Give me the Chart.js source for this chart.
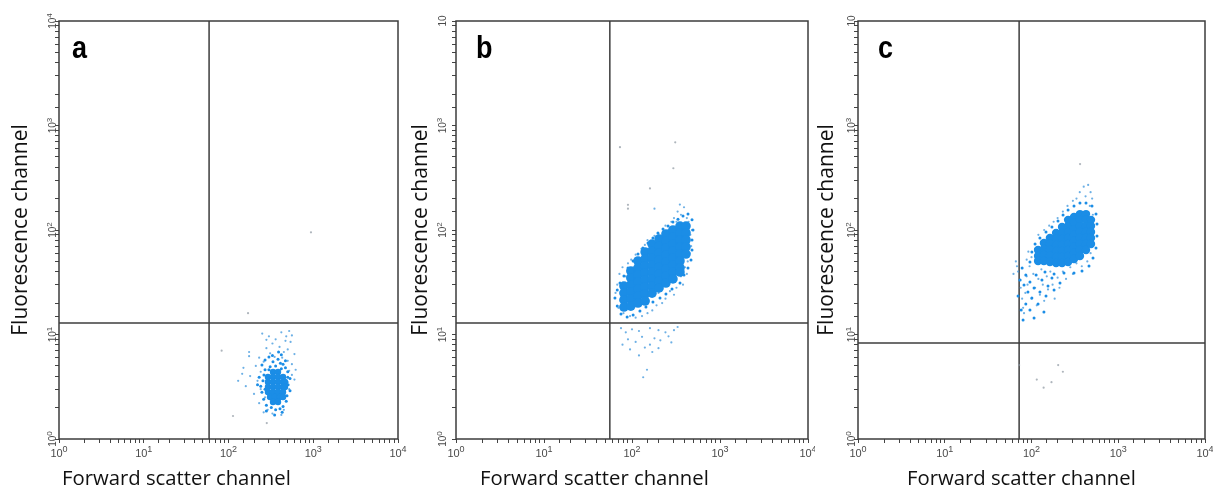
<!DOCTYPE html>
<html>
<head>
<meta charset="UTF-8">
<title>Flow cytometry dot plots</title>
<script src="https://cdn.jsdelivr.net/npm/chart.js@4.4.1/dist/chart.umd.min.js"></script>
<style>
    body { margin: 0; background: #fff; }
    #wrap { position: relative; width: 1213px; height: 491px; overflow: hidden; }
    #wrap canvas { position: absolute; top: 0; }
</style>
</head>
<body>
<div id="wrap">
    <canvas id="chartA" width="412" height="491" style="left:0px"></canvas>
    <canvas id="chartB" width="412" height="491" style="left:403px"></canvas>
    <canvas id="chartC" width="403" height="491" style="left:810px"></canvas>
</div>
<script>
// ---- data (forward scatter, fluorescence) ----
// tick labels as [base, exponent]
var xTickLabels = [['10', '0'], ['10', '1'], ['10', '2'], ['10', '3'], ['10', '4']];
var yLabelsA = [['10', '0'], ['10', '1'], ['10', '2'], ['10', '3'], ['10', '4']];
var yLabelsB = [['10', '0'], ['10', '1'], ['10', '2'], ['10', '3'], ['10', '']];
var yLabelsC = [['10', '0'], ['10', '1'], ['10', '2'], ['10', '3'], ['10', '']];

// quadrant gates [forward scatter, fluorescence]
var gateA = [59, 12.9];
var gateB = [56, 12.9];
var gateC = [72, 8.3];

// panel a - dense centre, fringe, scattered events, faint outliers
var aCore = [[335,4.38],[384,4.38],
    [292,3.92],[335,3.92],[384,3.92],[440,3.92],
    [292,3.51],[335,3.51],[384,3.51],[440,3.51],[464,3.51],
    [292,3.15],[335,3.15],[384,3.15],[440,3.15],[464,3.15],
    [292,2.82],[335,2.82],[384,2.82],[440,2.82],
    [309,2.52],[354,2.52],[405,2.52],[440,2.52],
    [335,2.26],[384,2.26]];
var aMid = [[248,5.1],[270,5.7],[300,6.1],[335,5.5],[384,5.8],[420,6.4],[440,5.2],[470,4.8],[500,4.4],
    [532,3.8],[505,3.3],[532,2.9],[490,2.6],[480,2.3],[440,2.05],[405,1.95],[360,1.9],[320,2.0],[280,2.1],
    [260,2.4],[248,2.8],[240,3.2],[255,3.6],[262,4.1],[270,4.6],[310,4.9],[360,5.0],[410,5.3],[420,4.7],
    [300,4.6],[230,3.9],[220,3.3],[270,3.0],[500,3.9],[470,5.6],[280,1.85],[350,1.7],[430,1.8],[390,6.8],[330,6.3]];
var aSpread = [[250,10.2],[300,9.6],[420,10.5],[520,10.8],[560,9.8],[360,9.0],[470,8.7],[330,8.2],[540,8.5],
    [400,7.6],[280,7.4],[500,7.2],[175,6.8],[175,6.2],[230,6.0],[600,6.5],[450,6.8],[260,5.5],[500,5.6],
    [560,5.2],[210,5.0],[150,4.8],[620,4.6],[240,4.4],[520,4.5],[180,4.0],[560,4.1],[130,3.6],[220,3.6],
    [500,3.5],[160,3.2],[240,3.0],[520,3.0],[200,2.7],[270,2.5],[470,2.6],[230,2.2],[290,1.9],[450,1.9],
    [260,1.8],[330,1.75],[420,1.7],[145,4.2],[600,3.7],[350,6.1],[430,6.0],[310,6.6],[280,8.9],[480,9.6]];
var aFaint = [[113,1.66],[283,1.42],[83,7.0],[170,16],[940,95]];

// panel b
var bCore = [[81,29.1],[81,24.9],[81,21.4],[81,18.3],
    [97,40.5],[97,34.8],[97,29.8],[97,25.5],[97,21.9],[97,18.7],
    [117,50.5],[117,43.3],[117,37.1],[117,31.8],[117,27.2],[117,23.4],[117,20.0],
    [141,61.6],[141,52.8],[141,45.2],[141,38.8],[141,33.2],[141,28.5],[141,24.4],[141,20.9],
    [169,73.4],[169,63.0],[169,54.0],[169,46.2],[169,39.6],[169,34.0],[169,29.1],[169,24.9],
    [203,82.0],[203,70.3],[203,60.2],[203,51.6],[203,44.3],[203,37.9],[203,32.5],[203,27.9],
    [243,91.6],[243,78.5],[243,67.3],[243,57.6],[243,49.4],[243,42.3],[243,36.3],[243,31.1],
    [292,100],[292,85.7],[292,73.4],[292,63.0],[292,54.0],[292,46.2],[292,39.6],[292,34.0],
    [351,109],[351,93.6],[351,80.2],[351,68.8],[351,58.9],[351,50.5],[351,43.3],[351,39.6],
    [411,109],[411,93.6],[411,80.2],[411,68.8],[411,58.9]];
var bMid = [[68,26.7],[73,31.1],[81,36.3],[90,43.3],[103,50.5],[117,58.9],[133,67.3],[152,75.1],[173,83.8],
    [197,93.6],[225,102],[257,109],[292,119],[333,127],[380,136],[433,142],[481,125],[493,100],[481,80.2],
    [481,64.4],[468,51.6],[433,43.3],[390,37.1],[351,31.1],[285,27.2],[243,24.4],[208,22.4],[173,20.5],
    [144,18.3],[123,16.8],[103,15.4],[88,14.7],[75,15.7],[68,18.7],[64,22.4]];
var bSpread = [[68,30],[72,38],[78,44],[85,36],[90,48],[98,52],[110,58],[120,50],[128,66],[140,72],
    [150,80],[165,70],[180,88],[200,92],[215,84],[240,110],[260,100],[280,120],[300,130],[330,150],
    [360,140],[390,165],[420,130],[440,120],[180,160],[350,175],[320,120],[230,95],[105,44],[95,40],
    [460,90],[470,70],[450,60],[430,50],[400,44],[420,38],[360,36],[380,30],[320,28],[300,24],
    [270,26],[240,22],[220,20],[190,19],[170,17],[150,16],[130,15],[110,14.5],[95,15],[80,16],
    [70,18],[75,21],[65,25],[480,100],[440,105],[350,95],[250,30],[200,25],
    [75,11.5],[85,10.5],[100,11.2],[120,10.8],[160,11.5],[200,11],[240,10.5],[300,11],[330,11.8],
    [90,9],[110,8.5],[130,9.5],[160,8],[180,9.2],[210,8.8],[260,9.6],[78,8],[95,7.2],[140,7.5],
    [170,6.8],[148,4.6],[134,3.9],[120,6.3],[200,7.4],[280,8.4]];
var bFaint = [[73,620],[310,690],[295,390],[160,250],[90,174],[90,160]];

// panel c
var cCore = [[119,64.4],[119,56.4],[119,50.5],
    [139,75.1],[139,65.8],[139,57.6],[139,50.5],
    [163,83.8],[163,73.4],[163,64.4],[163,56.4],[163,49.4],
    [192,93.6],[192,82.0],[192,71.8],[192,63.0],[192,55.2],[192,48.3],
    [225,107],[225,93.6],[225,82.0],[225,71.8],[225,63.0],[225,55.2],[225,48.3],
    [264,125],[264,109],[264,95.7],[264,83.8],[264,73.4],[264,64.4],[264,56.4],[264,49.4],
    [309,133],[309,117],[309,102],[309,89.6],[309,78.5],[309,68.8],[309,60.2],[309,52.8],
    [362,142],[362,125],[362,109],[362,95.7],[362,83.8],[362,73.4],[362,64.4],[362,56.4],
    [425,142],[425,125],[425,109],[425,95.7],[425,83.8],[425,73.4],[425,64.4],
    [485,125],[485,109],[485,95.7],[485,83.8],[485,73.4]];
var cMid = [[96,49.4],[101,61.6],[110,73.4],[125,83.8],[147,95.7],[172,107],[202,122],[231,139],[264,155],
    [309,170],[362,181],[425,181],[498,170],[554,142],[569,114],[569,87.7],[554,67.3],[512,54],[460,45.2],
    [382,40.5],[309,38.8],[237,38.8],[182,37.9],[143,39.6],
    [78,43.3],[86,37.1],[96,31.8],[107,27.9],[91,25.5],[82,29.8],[74,33.2],[113,37.1],[132,33.2],[155,29.1],
    [125,25.5],[101,22.4],[86,19.6],[76,17.2],[96,17.2],[119,19.6],[147,23.4],[182,26.7],[213,31.1],
    [172,34.8],[70,23.4],[80,13.8],[107,14.4],[139,16.4]];
var cSpread = [[70,40],[72,33],[75,28],[78,22],[80,18],[82,16],[85,25],[88,36],[90,30],[95,45],
    [100,22],[105,38],[110,28],[115,19],[120,34],[125,24],[130,42],[135,30],[140,21],[150,36],
    [155,27],[165,40],[175,30],[185,22],[200,35],[210,28],[230,40],[250,34],[280,44],[300,38],
    [68,45],[62,38],[66,50],[100,55],[92,62],[110,66],[88,52],
    [200,130],[230,150],[260,170],[300,190],[330,200],[360,230],[400,260],[450,270],[480,230],
    [500,200],[420,210],[470,170],[510,140],[520,110],[500,80],[480,60],[440,50],[380,45],[330,48],
    [180,120],[160,110],[140,100],[120,90]];
var cFaint = [[363,427],[203,5.1],[230,4.4],[170,3.5],[138,3.1],[115,3.7],[72,5.1]];

function pts(list) {
    return list.map(function (p) { return {x: p[0], y: p[1]}; });
}

// "10" with a raised exponent, centred on 0,0 of the current transform
function powerLabel(ctx, lbl, size, expSize, rise) {
    ctx.font = size + 'px "Liberation Sans", Arial, sans-serif';
    var wb = ctx.measureText(lbl[0]).width;
    ctx.font = expSize + 'px "Liberation Sans", Arial, sans-serif';
    var we = lbl[1] ? ctx.measureText(lbl[1]).width : 0;
    var x0 = -(wb + we) / 2;
    ctx.textAlign = 'left';
    ctx.font = size + 'px "Liberation Sans", Arial, sans-serif';
    ctx.fillText(lbl[0], x0, 0);
    if (lbl[1]) {
        ctx.font = expSize + 'px "Liberation Sans", Arial, sans-serif';
        ctx.fillText(lbl[1], x0 + wb, -rise);
    }
}

var panelDecor = {
    id: 'panelDecor',
    afterDraw: function (chart, args, opts) {
        var ctx = chart.ctx, ca = chart.chartArea;
        var xs = chart.scales.x, ys = chart.scales.y;
        ctx.save();
        ctx.strokeStyle = '#3c3c3c';
        ctx.lineWidth = 1.5;
        ctx.strokeRect(ca.left, ca.top, ca.right - ca.left, ca.bottom - ca.top);

        ctx.fillStyle = '#4a4a4a';
        ctx.textBaseline = 'alphabetic';
        xTickLabels.forEach(function (lbl, i) {
            ctx.save();
            ctx.translate(xs.getPixelForValue(Math.pow(10, i)), ca.bottom + 18);
            powerLabel(ctx, lbl, 11, 9, 5);
            ctx.restore();
        });

        opts.yLabels.forEach(function (lbl, i) {
            ctx.save();
            ctx.translate(ca.left - opts.yLabelGap, ys.getPixelForValue(Math.pow(10, i)));
            ctx.rotate(-Math.PI / 2);
            powerLabel(ctx, lbl, 10, 8, 4);
            ctx.restore();
        });

        ctx.fillStyle = '#111';
        ctx.textAlign = 'left';
        ctx.font = '20.3px "Open Sans", sans-serif';
        ctx.fillText('Forward scatter channel', opts.xTitleLeft, 485);

        ctx.save();
        ctx.translate(opts.letterX, 58);
        ctx.scale(1, 1.18);
        ctx.font = 'bold 27px "Liberation Sans", Arial, sans-serif';
        ctx.fillStyle = '#000';
        ctx.fillText(opts.letter, 0, 0);
        ctx.restore();
        ctx.restore();
    }
};

var panels = [
    {id: 'chartA', chartLeft: 59, padRight: 14, core: aCore, mid: aMid, spread: aSpread, faint: aFaint, gate: gateA,
        coreRadius: 3.2, letter: 'a', letterX: 72, yLabels: yLabelsA, yLabelGap: 3, xTitleLeft: 62, yTitlePad: 8.5},
    {id: 'chartB', chartLeft: 53, padRight: 7, core: bCore, mid: bMid, spread: bSpread, faint: bFaint, gate: gateB,
        coreRadius: 4.8, letter: 'b', letterX: 73, yLabels: yLabelsB, yLabelGap: 10.5, xTitleLeft: 77, yTitlePad: 5.5},
    {id: 'chartC', chartLeft: 48, padRight: 8, core: cCore, mid: cMid, spread: cSpread, faint: cFaint, gate: gateC,
        coreRadius: 4.2, letter: 'c', letterX: 68, yLabels: yLabelsC, yLabelGap: 3.5, xTitleLeft: 97, yTitlePad: 4.5}
];

panels.forEach(function (p) {
    var blue = '#1b8de6';
    new Chart(document.getElementById(p.id), {
        type: 'scatter',
        data: {
            datasets: [
                {data: pts(p.faint), pointRadius: 1.1, pointBorderWidth: 0, backgroundColor: 'rgba(140,150,160,0.7)', order: 4},
                {data: pts(p.spread), pointRadius: 1.1, pointBorderWidth: 0, backgroundColor: 'rgba(60,150,220,0.75)', order: 3},
                {data: pts(p.mid), pointRadius: 1.5, pointBorderWidth: 0, backgroundColor: blue, order: 2},
                {data: pts(p.core), pointRadius: p.coreRadius, pointBorderWidth: 0, backgroundColor: blue, order: 1},
                {data: [{x: p.gate[0], y: 1}, {x: p.gate[0], y: 10000}], showLine: true, pointRadius: 0,
                    borderColor: '#3c3c3c', borderWidth: 1.5, order: 10},
                {data: [{x: 1, y: p.gate[1]}, {x: 10000, y: p.gate[1]}], showLine: true, pointRadius: 0,
                    borderColor: '#3c3c3c', borderWidth: 1.5, order: 10}
            ]
        },
        options: {
            responsive: false,
            animation: false,
            devicePixelRatio: 1,
            layout: {padding: {left: 0, right: p.padRight, top: 21, bottom: 0}},
            plugins: {
                legend: {display: false},
                tooltip: {enabled: false},
                panelDecor: p
            },
            scales: {
                x: {
                    type: 'logarithmic', min: 1, max: 10000,
                    border: {display: false},
                    grid: {drawOnChartArea: false, drawTicks: true, tickLength: 4, color: '#444'},
                    ticks: {display: false},
                    afterFit: function (s) { s.height = 52; }
                },
                y: {
                    type: 'logarithmic', min: 1, max: 10000,
                    border: {display: false},
                    grid: {drawOnChartArea: false, drawTicks: true, tickLength: 4, color: '#444'},
                    ticks: {display: false},
                    title: {
                        display: true, text: 'Fluorescence channel', color: '#111',
                        font: {family: '"Open Sans", sans-serif', size: 21},
                        padding: {top: p.yTitlePad, bottom: 0}
                    },
                    afterFit: function (s) { s.width = p.chartLeft; }
                }
            }
        },
        plugins: [panelDecor]
    });
});
</script>
</body>
</html>
